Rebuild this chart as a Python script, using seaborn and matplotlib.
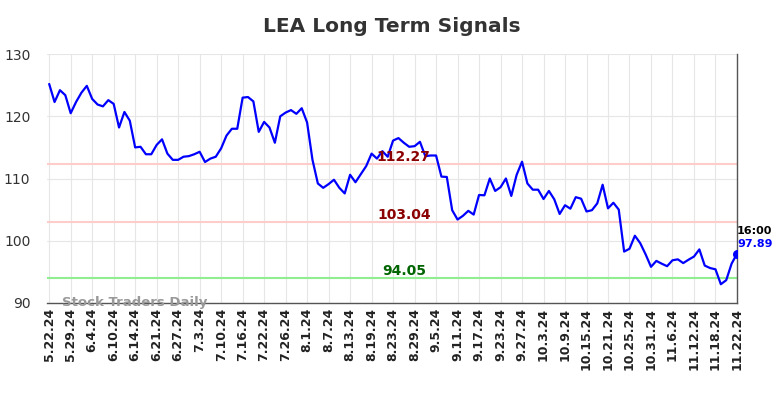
import matplotlib
matplotlib.use("Agg")
import matplotlib.pyplot as plt
import seaborn as sns
import pandas as pd
import numpy as np

# closing prices, one per trading day (5.22.24 .. 11.22.24)
prices = [
    125.2, 122.3, 124.2, 123.4, 120.5, 122.3, 123.8, 124.9, 122.8, 121.9,
    121.6, 122.6, 122.0, 118.2, 120.7, 119.3, 115.0, 115.1, 113.9, 113.9,
    115.4, 116.3, 114.0, 113.0, 113.0, 113.5, 113.6, 113.9, 114.3, 112.65,
    113.2, 113.5, 114.85, 116.9, 118.0, 118.0, 123.0, 123.1, 122.4, 117.5,
    119.1, 118.2, 115.75, 120.0, 120.6, 121.0, 120.4, 121.3, 119.0, 113.0,
    109.2, 108.5, 109.1, 109.8, 108.5, 107.6, 110.6, 109.4, 110.7, 112.0,
    114.0, 113.2, 114.4, 113.5, 116.1, 116.5, 115.75, 115.1, 115.2, 115.9,
    113.6, 113.7, 113.7, 110.3, 110.25, 104.9, 103.4, 104.0, 104.8, 104.2,
    107.35, 107.3, 110.0, 108.0, 108.6, 110.0, 107.2, 110.6, 112.7, 109.2,
    108.2, 108.2, 106.7, 108.0, 106.65, 104.3, 105.7, 105.15, 107.0, 106.75,
    104.7, 104.9, 106.0, 109.0, 105.2, 106.1, 105.0, 98.25, 98.7, 100.8,
    99.6, 97.8, 95.8, 96.75, 96.3, 95.9, 96.85, 97.0, 96.4, 96.95,
    97.45, 98.6, 96.0, 95.6, 95.4, 93.0, 93.65, 96.3, 97.89,
]

tick_labels = [
    "5.22.24", "5.29.24", "6.4.24", "6.10.24", "6.14.24", "6.21.24", "6.27.24",
    "7.3.24", "7.10.24", "7.16.24", "7.22.24", "7.26.24", "8.1.24", "8.7.24",
    "8.13.24", "8.19.24", "8.23.24", "8.29.24", "9.5.24", "9.11.24", "9.17.24",
    "9.23.24", "9.27.24", "10.3.24", "10.9.24", "10.15.24", "10.21.24",
    "10.25.24", "10.31.24", "11.6.24", "11.12.24", "11.18.24", "11.22.24",
]

upper_signal = 112.27
mid_signal = 103.04
lower_signal = 94.05
last_time = "16:00"

df = pd.DataFrame({"day": np.arange(len(prices)), "price": prices})

sns.set_style("whitegrid", {"grid.color": "#e6e6e6"})
plt.rcParams["font.family"] = ["DejaVu Sans"]

fig, ax = plt.subplots(figsize=(7.84, 3.98), dpi=100)
fig.subplots_adjust(left=0.06, right=0.94, top=0.864, bottom=0.239)

ax.axhline(upper_signal, color="#ffcccc", lw=1.5, zorder=1)
ax.axhline(mid_signal, color="#ffcccc", lw=1.5, zorder=1)
ax.axhline(lower_signal, color="#90ee90", lw=1.5, zorder=1)

sns.lineplot(data=df, x="day", y="price", color="#0000ff", lw=1.6, ax=ax, zorder=3)

last = len(prices) - 1
ax.scatter([last], [prices[-1]], color="#0000ff", s=30, zorder=4)

mid = 66
ax.text(mid, upper_signal, f"{upper_signal:.2f}", color="#8b0000", fontsize=10,
        fontweight="bold", ha="center", va="bottom")
ax.text(mid, mid_signal, f"{mid_signal:.2f}", color="#8b0000", fontsize=10,
        fontweight="bold", ha="center", va="bottom")
ax.text(mid, lower_signal, f"{lower_signal:.2f}", color="#006400", fontsize=10,
        fontweight="bold", ha="center", va="bottom")

ax.text(last, prices[-1] + 3.6, last_time, color="black", fontsize=8,
        fontweight="bold", ha="left", va="center")
ax.text(last, prices[-1] + 1.5, f"{prices[-1]:.2f}", color="#0000ff", fontsize=8,
        fontweight="bold", ha="left", va="center")

ax.text(2.3, 90.1, "Stock Traders Daily", color="#999999", fontsize=9.5,
        fontweight="bold", ha="left", va="center")

ax.set_xlim(-0.4, last)
ax.set_ylim(90, 130)
ax.set_yticks([90, 100, 110, 120, 130])
ax.set_xticks(np.arange(0, len(prices), 4))
ax.set_xticklabels(tick_labels, rotation=90, fontweight="bold", fontsize=9)
ax.tick_params(axis="y", labelsize=10, colors="#333333", length=0, pad=12)
ax.tick_params(axis="x", length=0, labelcolor="#222222")
ax.set_xlabel("")
ax.set_ylabel("")

for side in ["top", "left"]:
    ax.spines[side].set_visible(False)
for side in ["bottom", "right"]:
    ax.spines[side].set_visible(True)
    ax.spines[side].set_color("#555555")
    ax.spines[side].set_linewidth(1)

ax.set_title("LEA Long Term Signals", fontsize=14.5, fontweight="bold",
             color="#333333", pad=16)

fig.savefig("out.png", dpi=100)
